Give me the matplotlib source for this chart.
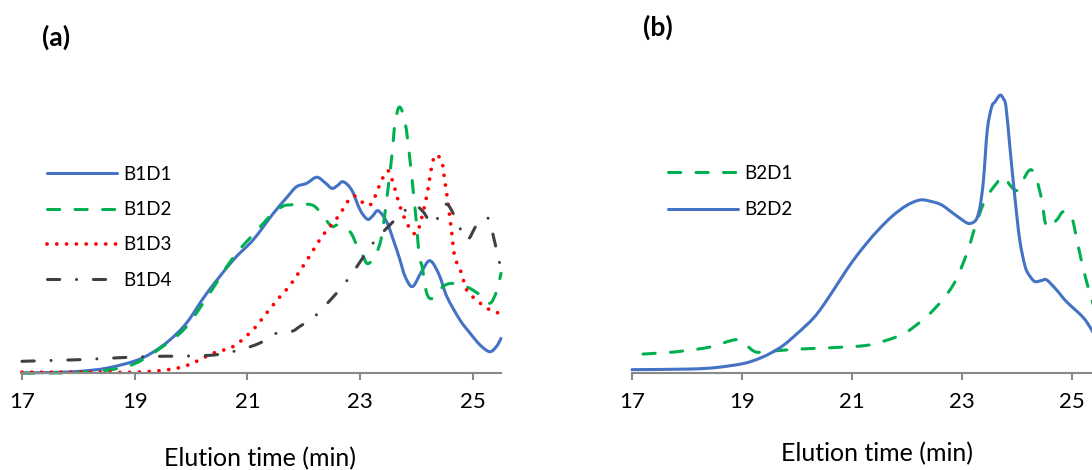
import matplotlib
matplotlib.use("Agg")
import matplotlib.pyplot as plt
from matplotlib.path import Path
from matplotlib.patches import PathPatch
from matplotlib.lines import Line2D

plt.rcParams["font.family"] = ["Lato", "DejaVu Sans"]

# ---- Panel (a): B1 series, elution time (min) vs normalised detector response ----
t_b1d1 = [17.0, 17.5, 18.0, 18.5, 19.0, 19.3, 19.6, 19.92, 20.28, 20.75, 21.1, 21.46, 21.7,
          21.87, 22.05, 22.23, 22.38, 22.5, 22.6, 22.7, 22.85, 23.0, 23.13, 23.22, 23.32, 23.47,
          23.59, 23.7, 23.8, 23.93, 24.09, 24.24, 24.4, 24.54, 24.77, 24.95, 25.13, 25.3, 25.42, 25.5]
b1d1 = [0.0, 0.002, 0.006, 0.018, 0.045, 0.075, 0.12, 0.188, 0.30, 0.425, 0.50, 0.60, 0.66,
        0.70, 0.713, 0.736, 0.715, 0.694, 0.705, 0.719, 0.688, 0.613, 0.578, 0.59, 0.61, 0.569,
        0.50, 0.43, 0.362, 0.325, 0.381, 0.422, 0.37, 0.287, 0.20, 0.15, 0.105, 0.08, 0.10, 0.13]

t_b1d2 = [17.0, 17.5, 18.0, 18.5, 19.0, 19.5, 19.9, 20.3, 20.75, 21.1, 21.45, 21.64, 21.76, 21.95,
          22.14, 22.26, 22.44, 22.52, 22.61, 22.82, 22.94, 23.05, 23.12, 23.2, 23.29, 23.38, 23.47,
          23.56, 23.62, 23.70, 23.80, 23.88, 23.94, 24.0, 24.05, 24.1, 24.17, 24.24, 24.35, 24.47,
          24.62, 24.8, 24.95, 25.13, 25.3, 25.42, 25.5]
b1d2 = [0.0, 0.0, 0.002, 0.01, 0.035, 0.10, 0.17, 0.29, 0.435, 0.52, 0.60, 0.628, 0.632, 0.635,
        0.632, 0.613, 0.563, 0.55, 0.556, 0.531, 0.481, 0.44, 0.412, 0.42, 0.45, 0.512, 0.65,
        0.81, 0.94, 1.0, 0.94, 0.81, 0.69, 0.563, 0.437, 0.40, 0.31, 0.28, 0.29, 0.325,
        0.337, 0.33, 0.318, 0.293, 0.262, 0.306, 0.375]

t_b1d3 = [17.0, 17.5, 18.0, 18.5, 19.0, 19.5, 19.92, 20.4, 20.75, 21.1, 21.34, 21.55, 21.76, 22.02,
          22.32, 22.61, 22.85, 23.0, 23.09, 23.21, 23.32, 23.44, 23.49, 23.53, 23.62, 23.71, 23.83,
          23.97, 24.05, 24.18, 24.27, 24.34, 24.45, 24.5, 24.56, 24.62, 24.68, 24.8, 24.89, 25.1,
          25.33, 25.5]
b1d3 = [0.003, 0.003, 0.003, 0.003, 0.003, 0.01, 0.028, 0.075, 0.10, 0.163, 0.225, 0.28, 0.331, 0.412,
        0.512, 0.588, 0.663, 0.65, 0.632, 0.638, 0.694, 0.75, 0.76, 0.75, 0.69, 0.625, 0.563,
        0.523, 0.55, 0.663, 0.776, 0.82, 0.794, 0.726, 0.638, 0.538, 0.437, 0.375, 0.312, 0.268,
        0.234, 0.224]

t_b1d4 = [17.0, 17.5, 18.0, 18.5, 19.0, 19.5, 20.0, 20.46, 20.87, 21.22, 21.52, 21.79, 21.93, 22.2,
          22.47, 22.73, 23.0, 23.18, 23.41, 23.71, 23.85, 23.97, 24.12, 24.29, 24.47, 24.56, 24.71,
          24.89, 25.07, 25.27, 25.38, 25.5]
b1d4 = [0.044, 0.047, 0.05, 0.055, 0.06, 0.063, 0.064, 0.069, 0.0875, 0.1125, 0.15, 0.157, 0.175,
        0.214, 0.274, 0.337, 0.418, 0.475, 0.531, 0.594, 0.62, 0.632, 0.606, 0.56, 0.619, 0.632,
        0.575, 0.50, 0.556, 0.582, 0.50, 0.39]

# ---- Panel (b): B2 series ----
t_b2d1 = [17.2, 17.6, 17.93, 18.41, 18.9, 19.08, 19.26, 19.56, 20.05, 20.65, 21.26, 21.62, 21.87,
          22.09, 22.48, 22.84, 23.09, 23.24, 23.42, 23.63, 23.75, 23.9, 24.02, 24.18, 24.27, 24.36,
          24.45, 24.54, 24.72, 24.84, 24.99, 25.09, 25.21, 25.36, 25.45]
b2d1 = [0.068, 0.073, 0.079, 0.093, 0.12, 0.099, 0.075, 0.079, 0.086, 0.091, 0.099, 0.117, 0.135,
        0.16, 0.226, 0.316, 0.43, 0.525, 0.621, 0.681, 0.704, 0.668, 0.657, 0.717, 0.728, 0.692,
        0.621, 0.525, 0.549, 0.579, 0.561, 0.477, 0.37, 0.262, 0.22]

t_b2d2 = [17.0, 18.0, 18.5, 19.0, 19.26, 19.5, 19.75, 20.0, 20.29, 20.5, 20.78, 21.0, 21.26, 21.5,
          21.75, 22.0, 22.24, 22.45, 22.63, 22.84, 23.0, 23.11, 23.2, 23.27, 23.33, 23.39, 23.46,
          23.54, 23.6, 23.69, 23.75, 23.80, 23.87, 23.96, 24.05, 24.15, 24.24, 24.33, 24.45, 24.54,
          24.72, 24.90, 25.2, 25.36, 25.45]
b2d2 = [0.012, 0.014, 0.019, 0.033, 0.048, 0.069, 0.099, 0.141, 0.195, 0.249, 0.333, 0.398, 0.464,
        0.518, 0.566, 0.602, 0.621, 0.615, 0.603, 0.573, 0.55, 0.537, 0.54, 0.555, 0.60, 0.692,
        0.872, 0.955, 0.973, 0.997, 0.985, 0.955, 0.812, 0.633, 0.477, 0.381, 0.346, 0.328, 0.332,
        0.334, 0.298, 0.256, 0.20, 0.154, 0.12]

x_ticks = [17, 19, 21, 23, 25]
x_label = "Elution time (min)"

BLUE = "#4472C4"
GREEN = "#00B050"
RED = "#FF0000"
DARK = "#404040"
AXIS_GREY = "#898989"
LW = 2.2
LW_DOT = 2.7

SOLID = "-"
DASHED = (0, (4, 5))
DOTTED = (0, (0.01, 2.6))
DASHDOT = (0, (4, 5.5, 0.01, 5.5))

W, H = 1092, 470
fig = plt.figure(figsize=(W / 100, H / 100), dpi=100)

ax_a = fig.add_axes([22 / W, 97 / H, 479 / W, 279.3 / H])
ax_b = fig.add_axes([632 / W, 97 / H, 467.5 / W, 292.6 / H])


def style_axis(ax):
    ax.set_xlim(17, 25.5)
    ax.set_ylim(0, 1.05)
    for side in ("left", "right", "top"):
        ax.spines[side].set_visible(False)
    ax.spines["bottom"].set_color(AXIS_GREY)
    ax.spines["bottom"].set_linewidth(1.5)
    ax.set_yticks([])
    ax.set_xticks(x_ticks)
    ax.set_xticklabels([str(v) for v in x_ticks])
    ax.tick_params(axis="x", direction="out", length=5, width=1.5, color=AXIS_GREY,
                   labelsize=16, pad=9, labelcolor="black")
    ax.patch.set_visible(False)


def width_for(style):
    return LW_DOT if style == DOTTED else LW


def smooth_curve(ax, x, y, color, style):
    """Draw a series as a smoothed line (Catmull-Rom segments as cubic Beziers)."""
    pts = list(zip(x, y))
    n = len(pts)
    verts = [pts[0]]
    codes = [Path.MOVETO]
    for i in range(n - 1):
        p0 = pts[i - 1] if i > 0 else pts[i]
        p1 = pts[i]
        p2 = pts[i + 1]
        p3 = pts[i + 2] if i + 2 < n else pts[i + 1]
        c1 = (p1[0] + (p2[0] - p0[0]) / 6, p1[1] + (p2[1] - p0[1]) / 6)
        c2 = (p2[0] - (p3[0] - p1[0]) / 6, p2[1] - (p3[1] - p1[1]) / 6)
        verts += [c1, c2, p2]
        codes += [Path.CURVE4] * 3
    patch = PathPatch(Path(verts, codes), fill=False, edgecolor=color, linewidth=width_for(style),
                      linestyle=style, capstyle="round", joinstyle="round", clip_on=False)
    ax.add_patch(patch)


def handle(color, style):
    return Line2D([], [], color=color, linestyle=style, linewidth=width_for(style),
                  solid_capstyle="round", dash_capstyle="round")


style_axis(ax_a)
style_axis(ax_b)

series_a = [(t_b1d1, b1d1, BLUE, SOLID, "B1D1"),
            (t_b1d2, b1d2, GREEN, DASHED, "B1D2"),
            (t_b1d3, b1d3, RED, DOTTED, "B1D3"),
            (t_b1d4, b1d4, DARK, DASHDOT, "B1D4")]
series_b = [(t_b2d1, b2d1, GREEN, DASHED, "B2D1"),
            (t_b2d2, b2d2, BLUE, SOLID, "B2D2")]

for ax, series in ((ax_a, series_a), (ax_b, series_b)):
    for x, y, c, s, _ in series:
        smooth_curve(ax, x, y, c, s)

leg_kw = dict(loc="upper left", bbox_transform=fig.transFigure, frameon=False, fontsize=13.5,
              handlelength=3.73, handletextpad=0.32, borderpad=0, borderaxespad=0)
ax_a.legend([handle(c, s) for _, _, c, s, _ in series_a], [l for *_, l in series_a],
            bbox_to_anchor=(47 / W, 1 - 166 / H), labelspacing=0.97, **leg_kw)
ax_b.legend([handle(c, s) for _, _, c, s, _ in series_b], [l for *_, l in series_b],
            bbox_to_anchor=(668 / W, 1 - 165 / H), labelspacing=1.02, **leg_kw)

fig.text(56 / W, 1 - 37 / H, "(a)", ha="center", va="center", fontsize=19, fontweight="bold")
fig.text(658 / W, 1 - 27 / H, "(b)", ha="center", va="center", fontsize=19, fontweight="bold")

fig.text(260 / W, 1 - 459 / H, x_label, ha="center", va="center", fontsize=18)
fig.text(877 / W, 1 - 454 / H, x_label, ha="center", va="center", fontsize=18)

fig.savefig("out.png", dpi=100)
